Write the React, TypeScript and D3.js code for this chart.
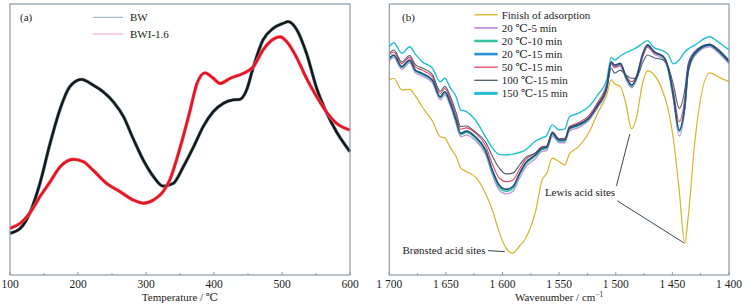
import React from "react";
import * as d3 from "d3";

// ---------- Panel (a): TPD ----------
const bwTemp = [100, 115, 129, 144, 159, 174, 188, 205, 222, 237, 252, 267, 281, 296, 311, 325, 340, 355, 370, 384, 399, 414, 428, 438, 448, 458, 472, 487, 502, 509, 522, 536, 551, 566, 580, 600];
const bwValues = [15.4, 17.2, 22.8, 33.8, 48.6, 61.5, 69.5, 72.2, 70.1, 67.6, 63.9, 58.4, 50.4, 42.4, 36.3, 32.8, 33.8, 40.0, 47.3, 54.7, 60.3, 63.4, 64.6, 64.8, 68.3, 76.9, 86.7, 91.0, 92.9, 93.5, 90.4, 81.8, 68.9, 59.7, 52.9, 45.5];
const bwiTemp = [100, 115, 129, 144, 159, 174, 193, 208, 222, 242, 262, 281, 296, 311, 325, 335, 350, 365, 375, 387, 399, 409, 424, 443, 458, 472, 487, 497, 507, 522, 536, 551, 566, 580, 600];
const bwiValues = [17.2, 19.1, 22.8, 28.9, 34.4, 40.0, 42.7, 41.8, 38.7, 33.8, 30.7, 27.7, 26.5, 27.7, 30.7, 35.1, 46.9, 60.9, 70.7, 74.6, 72.6, 70.7, 72.6, 74.4, 76.9, 83.0, 87.0, 87.9, 86.1, 80.0, 72.6, 65.8, 59.9, 56.0, 53.5];
const tempTicks = [100, 200, 300, 400, 500, 600];
const tempMinor = [150, 250, 350, 450, 550];
const legendA = ["BW", "BWI-1.6"];

// ---------- Panel (b): IR spectra ----------
const wavenumbers = [1700, 1696, 1689, 1682, 1677, 1671, 1662, 1655, 1651, 1646, 1641, 1637, 1632, 1624, 1615, 1609, 1603, 1597, 1591, 1585, 1580, 1571, 1565, 1561, 1556, 1550, 1545, 1541, 1533, 1524, 1516, 1508, 1504, 1501, 1496, 1491, 1486, 1482, 1476, 1472, 1466, 1458, 1454, 1449, 1444, 1439, 1436, 1430, 1417, 1410, 1400];
const finishAds = [72.0, 72.6, 68.3, 68.5, 66.1, 62.1, 56.8, 51.0, 50.6, 46.9, 43.7, 39.5, 38.2, 36.2, 30.1, 24.0, 15.9, 10.0, 8.1, 10.7, 13.3, 23.2, 35.1, 37.5, 43.1, 41.8, 40.6, 44.6, 47.3, 52.3, 59.7, 66.4, 72.0, 70.5, 69.6, 63.1, 53.9, 57.6, 71.3, 75.3, 73.8, 67.2, 61.6, 49.8, 31.4, 11.7, 21.5, 49.8, 74.6, 73.2, 71.3];
const t20m5 = [79.0, 80.2, 75.9, 78.3, 74.6, 73.4, 71.0, 64.6, 66.4, 62.2, 55.8, 51.0, 51.6, 49.6, 44.5, 37.0, 31.3, 29.9, 30.8, 35.7, 39.6, 42.9, 45.6, 45.9, 51.2, 48.8, 48.8, 53.1, 54.4, 56.9, 61.7, 68.5, 77.7, 76.5, 77.1, 72.2, 69.1, 71.6, 80.8, 84.0, 81.5, 79.6, 75.8, 64.5, 51.3, 61.2, 74.6, 81.0, 84.2, 82.2, 77.9];
const t20m10 = [79.7, 80.9, 76.6, 79.0, 75.3, 74.1, 71.7, 65.4, 67.2, 63.0, 56.7, 51.8, 52.6, 50.5, 45.5, 38.0, 32.5, 30.9, 31.9, 36.9, 40.7, 43.9, 46.4, 46.7, 51.9, 49.4, 49.5, 53.8, 55.1, 57.5, 62.4, 69.2, 78.3, 77.1, 77.7, 72.8, 69.6, 72.2, 81.5, 84.6, 82.1, 80.3, 76.5, 65.2, 52.9, 62.0, 75.2, 81.5, 84.7, 82.8, 78.5];
const t20m15 = [80.0, 81.2, 76.9, 79.3, 75.6, 74.4, 72.0, 65.8, 67.6, 63.4, 57.2, 52.3, 53.1, 51.0, 46.1, 38.7, 33.2, 31.6, 32.6, 37.5, 41.2, 44.3, 46.8, 47.1, 52.3, 49.8, 49.8, 54.1, 55.4, 57.8, 62.7, 69.5, 78.7, 77.5, 78.1, 73.2, 70.1, 72.6, 81.8, 84.9, 82.4, 80.6, 76.9, 65.8, 53.5, 62.7, 75.6, 81.8, 84.9, 83.0, 78.7];
const t50m15 = [81.2, 82.3, 78.0, 80.3, 76.8, 75.6, 73.2, 67.0, 68.8, 64.8, 58.8, 53.8, 54.3, 52.4, 47.8, 41.0, 35.8, 34.4, 35.0, 39.0, 42.4, 45.0, 47.4, 47.6, 52.8, 50.3, 50.4, 54.8, 56.2, 58.7, 63.6, 70.4, 78.2, 76.6, 77.6, 73.5, 71.3, 73.2, 80.9, 84.3, 82.0, 80.6, 77.3, 67.5, 56.6, 65.2, 77.2, 82.3, 85.1, 83.3, 79.0];
const t100m15 = [81.8, 83.0, 78.6, 81.0, 77.6, 76.4, 74.0, 67.8, 69.6, 65.8, 60.0, 54.8, 55.0, 52.8, 49.1, 43.9, 39.5, 37.3, 37.6, 40.6, 43.2, 45.0, 47.2, 47.5, 52.6, 50.2, 50.2, 54.4, 55.8, 58.0, 62.4, 68.5, 76.3, 74.5, 75.6, 73.8, 72.6, 72.7, 78.6, 81.2, 80.2, 79.3, 77.1, 70.1, 61.5, 68.5, 78.0, 82.6, 85.2, 83.4, 79.3];
const t150m15 = [84.2, 85.7, 81.8, 84.2, 81.5, 78.7, 76.4, 71.3, 72.6, 69.0, 65.8, 60.9, 60.3, 57.2, 51.0, 46.9, 44.5, 44.3, 44.6, 45.2, 46.1, 49.4, 50.6, 51.5, 55.4, 53.5, 53.9, 58.3, 59.7, 62.1, 66.4, 72.0, 80.3, 79.3, 80.8, 82.1, 83.0, 83.8, 85.6, 86.5, 83.8, 82.7, 81.5, 77.9, 79.3, 82.3, 83.4, 84.9, 87.9, 86.1, 83.0];
const legendB = ["Finish of adsorption", "20 ℃-5 min", "20 ℃-10 min", "20 ℃-15 min", "50 ℃-15 min", "100 ℃-15 min", "150 ℃-15 min"];
const wnTicks = [1700, 1650, 1600, 1550, 1500, 1450, 1400];
const wnMinor = [1675, 1625, 1575, 1525, 1475, 1425];

const FONT = "'Liberation Serif', 'Times New Roman', 'DejaVu Serif', serif";
const TXT = "#1c1c1c";
const FRAME = "#8a9aa6";

export default function App() {
  const left = 10, right = 350, top = 4, bottom = 275;
  const left2 = 389.3, right2 = 729;
  const xA = d3.scaleLinear().domain([100, 600]).range([left, right]);
  const yA = d3.scaleLinear().domain([0, 100]).range([bottom, top]);
  const xB = d3.scaleLinear().domain([1700, 1400]).range([left2, right2]);
  const yB = d3.scaleLinear().domain([0, 100]).range([bottom, top]);

  const lineA = (xs: number[], ys: number[]) =>
    d3.line<number>().x((_, i) => xA(xs[i])).y((v) => yA(v)).curve(d3.curveMonotoneX)(ys) || "";
  const lineB = (ys: number[]) =>
    d3.line<number>().x((_, i) => xB(wavenumbers[i])).y((v) => yB(v)).curve(d3.curveMonotoneX)(ys) || "";

  const seriesB = [
    { name: legendB[0], data: finishAds, color: "#d8b22a", w: 1.2, lw: 1.3 },
    { name: legendB[1], data: t20m5, color: "#c493d6", w: 1.3, lw: 1.8 },
    { name: legendB[2], data: t20m10, color: "#36c4a2", w: 1.6, lw: 2.6 },
    { name: legendB[3], data: t20m15, color: "#2a8fd6", w: 1.6, lw: 2.6 },
    { name: legendB[4], data: t50m15, color: "#e2405c", w: 1.1, lw: 1.3 },
    { name: legendB[5], data: t100m15, color: "#4d5b6b", w: 1.1, lw: 1.3 },
    { name: legendB[6], data: t150m15, color: "#22bfd3", w: 1.4, lw: 3 },
  ];
  // draw order: main group under the dark navy 20-15 line
  const drawOrder = [0, 6, 1, 2, 4, 5, 3];

  const ticksA = xA.ticks ? tempTicks : tempTicks;

  return (
    <svg width={744} height={305} style={{ position: "absolute", left: 0, top: 0, background: "#fff" }} fontFamily={FONT}>
      {/* ---------------- Panel (a) ---------------- */}
      <g>
        <path d={lineA(bwTemp, bwValues)} fill="none" stroke="#5f7f8c" strokeWidth={3.4} strokeLinejoin="round" />
        <path d={lineA(bwTemp, bwValues)} fill="none" stroke="#151515" strokeWidth={2.2} strokeLinejoin="round" />
        <path d={lineA(bwiTemp, bwiValues)} fill="none" stroke="#f25a6a" strokeWidth={3.4} strokeLinejoin="round" />
        <path d={lineA(bwiTemp, bwiValues)} fill="none" stroke="#e3141f" strokeWidth={2.2} strokeLinejoin="round" />
        <rect x={left} y={top} width={right - left} height={bottom - top} fill="none" stroke={FRAME} strokeWidth={1.2} />
        {ticksA.map((t) => (
          <g key={"ta" + t}>
            <line x1={xA(t)} x2={xA(t)} y1={bottom} y2={bottom - 3} stroke={FRAME} />
            <text x={xA(t)} y={288} textAnchor="middle" fontSize={11.5} fill={TXT}>{t}</text>
          </g>
        ))}
        {tempMinor.map((t) => (
          <line key={"tm" + t} x1={xA(t)} x2={xA(t)} y1={bottom} y2={bottom - 2} stroke={FRAME} />
        ))}
        <text x={(left + right) / 2} y={301} textAnchor="middle" fontSize={11} fill={TXT}>Temperature / ℃</text>
        <text x={20} y={21} fontSize={11} fill={TXT}>(a)</text>
        {legendA.map((n, i) => (
          <g key={n}>
            <line x1={93} x2={123} y1={17.3 + i * 16.7} y2={17.3 + i * 16.7} stroke={i === 0 ? "#8fb2c2" : "#f3a0b2"} strokeWidth={1} />
            <text x={130} y={21.3 + i * 16.7} fontSize={11} fill={TXT}>{n}</text>
          </g>
        ))}
      </g>

      {/* ---------------- Panel (b) ---------------- */}
      <g>
        {drawOrder.map((k) => (
          <path key={"s" + k} d={lineB(seriesB[k].data)} fill="none" stroke={k === 3 ? "#1f4f86" : seriesB[k].color}
            strokeWidth={seriesB[k].w} strokeLinejoin="round" />
        ))}
        <rect x={left2} y={top} width={right2 - left2} height={bottom - top} fill="none" stroke={FRAME} strokeWidth={1.2} />
        {wnTicks.map((t) => (
          <g key={"tb" + t}>
            <line x1={xB(t)} x2={xB(t)} y1={bottom} y2={bottom - 3} stroke={FRAME} />
            <text x={xB(t)} y={288} textAnchor="middle" fontSize={11.5} fill={TXT} style={{ whiteSpace: "pre" }}>
              {String(t).slice(0, 1) + " " + String(t).slice(1)}
            </text>
          </g>
        ))}
        {wnMinor.map((t) => (
          <line key={"bm" + t} x1={xB(t)} x2={xB(t)} y1={bottom} y2={bottom - 2} stroke={FRAME} />
        ))}
        <text x={(left2 + right2) / 2} y={301} textAnchor="middle" fontSize={11} fill={TXT}>
          Wavenumber / cm<tspan dy={-4} fontSize={7.5}>−1</tspan>
        </text>
        <text x={402} y={21} fontSize={11} fill={TXT}>(b)</text>
        {seriesB.map((s, i) => (
          <g key={"lg" + i}>
            <line x1={474.3} x2={497.7} y1={14.8 + i * 13.1} y2={14.8 + i * 13.1} stroke={s.color} strokeWidth={s.lw} />
            <text x={501.7} y={18.8 + i * 13.1} fontSize={11} fill={TXT}>{s.name}</text>
          </g>
        ))}
        {/* annotations */}
        <text x={xB(1615)} y={yB(7.7)} textAnchor="end" fontSize={11} fill={TXT}>Brønsted acid sites</text>
        <line x1={xB(1613)} y1={yB(9.0)} x2={xB(1598)} y2={yB(8.6)} stroke="#3a4a58" strokeWidth={1} />
        <text x={xB(1562.6)} y={yB(29.3)} fontSize={11} fill={TXT}>Lewis acid sites</text>
        <line x1={xB(1499.4)} y1={yB(32.8)} x2={xB(1487.6)} y2={yB(52.0)} stroke="#3a4a58" strokeWidth={1} />
        <line x1={xB(1498.8)} y1={yB(27.4)} x2={xB(1440)} y2={yB(11.9)} stroke="#3a4a58" strokeWidth={1} />
      </g>
    </svg>
  );
}
